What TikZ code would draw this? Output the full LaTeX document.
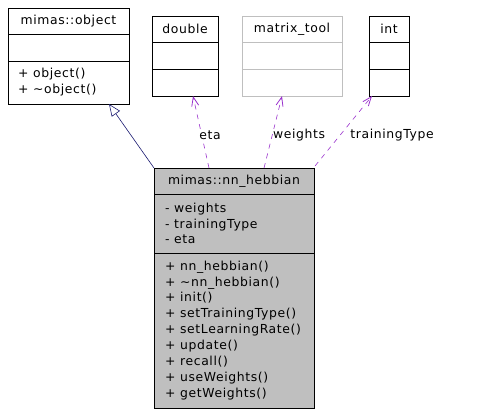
\documentclass[tikz,border=0pt]{standalone}
\usepackage{fontspec}
\setmainfont{DejaVu Sans}[LetterSpace=5]
\usetikzlibrary{arrows.meta,calc}
\definecolor{edgepurple}{HTML}{9A32CD}
\definecolor{edgenavy}{HTML}{191970}
\definecolor{boxgray}{HTML}{BFBFBF}
\tikzset{
  comp/.style={draw, line width=0.8bp, anchor=north west, inner sep=0pt, outer sep=0pt},
  ctext/.style={anchor=north west, align=left, inner sep=0pt, font=\fontsize{12.4bp}{15.9bp}\selectfont},
  htext/.style={inner sep=0pt, font=\fontsize{12.4bp}{15.9bp}\selectfont},
  usedge/.style={draw=edgepurple, line width=0.6bp, dash pattern=on 5bp off 5bp, -{Straight Barb[length=9bp,width=7bp,line width=0.8bp]}},
  inhedge/.style={draw=edgenavy, line width=0.6bp, -{Triangle[open,length=12bp,width=10bp,fill=white]}},
  elabel/.style={inner sep=0pt, font=\fontsize{12.4bp}{14bp}\selectfont}
}
\begin{document}
\begin{tikzpicture}[x=1bp,y=-1bp]
\useasboundingbox (0,0) rectangle (482,415);
% mimas::object
\node[comp, minimum width=121bp, minimum height=26bp] (objH) at (8,8) {};
\node[comp, minimum width=121bp, minimum height=27bp] (objA) at (8,34) {};
\node[comp, minimum width=121bp, minimum height=43bp] (objM) at (8,61) {};
\node[htext] (objT) at (objH.center) {mimas::object};
\node[ctext] (objL) at (18,67.5) {+ object()\\+ \textasciitilde object()};
% double
\node[comp, minimum width=66bp, minimum height=26bp] (dblH) at (152,16) {};
\node[comp, minimum width=66bp, minimum height=27bp] (dblA) at (152,42) {};
\node[comp, minimum width=66bp, minimum height=27bp] (dblM) at (152,69) {};
\node[htext] (dblT) at (dblH.center) {double};
% matrix_tool
\node[comp, draw=boxgray, minimum width=100bp, minimum height=26bp] (matH) at (242,16) {};
\node[comp, draw=boxgray, minimum width=100bp, minimum height=27bp] (matA) at (242,42) {};
\node[comp, draw=boxgray, minimum width=100bp, minimum height=27bp] (matM) at (242,69) {};
\node[htext] (matT) at (matH.center) {matrix\_tool};
% int
\node[comp, minimum width=40bp, minimum height=26bp] (intH) at (369,16) {};
\node[comp, minimum width=40bp, minimum height=27bp] (intA) at (369,42) {};
\node[comp, minimum width=40bp, minimum height=27bp] (intM) at (369,69) {};
\node[htext] (intT) at (intH.center) {int};
% nn_hebbian
\node[comp, fill=boxgray, minimum width=160bp, minimum height=26bp] (nnH) at (154,168) {};
\node[comp, fill=boxgray, minimum width=160bp, minimum height=59bp] (nnA) at (154,194) {};
\node[comp, fill=boxgray, minimum width=160bp, minimum height=155bp] (nnM) at (154,253) {};
\node[htext] (nnT) at (nnH.center) {mimas::nn\_hebbian};
\node[ctext] (nnAL) at (165,202.5) {- weights\\- trainingType\\- eta};
\node[ctext] (nnML) at (165,260.5) {+ nn\_hebbian()\\+ \textasciitilde nn\_hebbian()\\+ init()\\+ setTrainingType()\\+ setLearningRate()\\+ update()\\+ recall()\\+ useWeights()\\+ getWeights()};
% connectors
\coordinate (inhS) at (nnH.north west);
\coordinate (inhE) at ($(objM.south west)+(101,0)$);
\path[inhedge] (inhS) -- (inhE);
\coordinate (etaS) at ($(nnH.north west)+(55,0)$);
\coordinate (etaE) at ($(dblM.south west)+(41,0)$);
\path[usedge] (etaS) -- (etaE);
\node[elabel, fill=white] (etaL) at (210,135) {eta};
\coordinate (wS) at ($(nnH.north west)+(110,0)$);
\coordinate (wE) at ($(matM.south west)+(40,0)$);
\path[usedge] (wS) -- (wE);
\node[elabel, fill=white] (wL) at (299,135) {weights};
\coordinate (tS) at ($(nnH.north east)+(1,-2)$);
\coordinate (tE) at ($(intM.south west)+(3,0)$);
\path[usedge] (tS) -- (tE);
\node[elabel, fill=white] (tL) at (392,135) {trainingType};
\end{tikzpicture}
\end{document}
